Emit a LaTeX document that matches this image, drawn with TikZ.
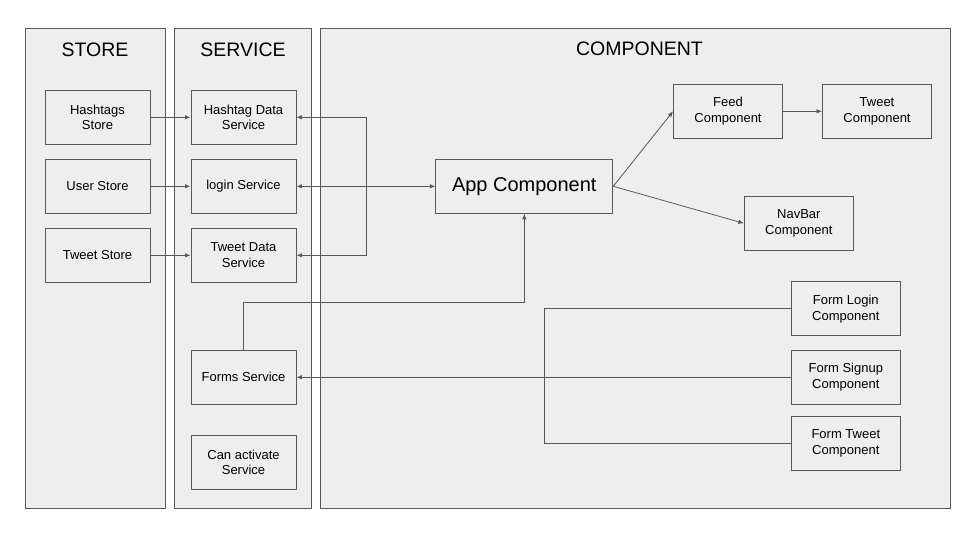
\documentclass[tikz,border=0pt]{standalone}
\usepackage{fontspec}
\setmainfont{Liberation Sans}
\usetikzlibrary{arrows.meta}
\definecolor{panelgray}{HTML}{EEEEEE}
\definecolor{linegray}{HTML}{595959}
\tikzset{
    panel/.style = {draw = linegray , fill = panelgray , line width = 0.9pt},
    paneltitle/.style = {font = \fontsize{19.5}{22}\selectfont},
    box/.style = {draw = linegray , fill = panelgray , line width = 0.9pt , minimum width = 105pt , minimum height = 54pt , inner sep = 0pt , align = center , font = \fontsize{13}{15.7}\selectfont},
    wide/.style = {minimum width = 109pt},
    link/.style = {draw = linegray , line width = 0.8pt},
    arr/.style = {link , -{Latex[length = 5.5pt , width = 4.5pt]}},
    darr/.style = {link , {Latex[length = 5.5pt , width = 4.5pt]}-{Latex[length = 5.5pt , width = 4.5pt]}}
}
\begin{document}
\begin{tikzpicture}[x = 1pt , y = -1pt]
    \useasboundingbox (0,0) rectangle (960,540);
    \draw[panel] (25,28.3) rectangle (165.7,508.3); % Στήλες
    \draw[panel] (174.3,28.3) rectangle (311.7,508.3);
    \draw[panel] (320.7,28.3) rectangle (950.7,508.5);
    \node[paneltitle] (storetitle) at (95,49.5) {STORE};
    \node[paneltitle] (servicetitle) at (243,49.5) {SERVICE};
    \node[paneltitle] (componenttitle) at (639.5,49.2) {COMPONENT};

    \node[box] (hstore) at (97.5,117.3) {Hashtags\\Store}; % Store
    \node[box] (ustore) at (97.5,186.3) {User Store};
    \node[box] (tstore) at (97.5,255.3) {Tweet Store};

    \node[box] (hservice) at (243.5,117.3) {Hashtag Data\\Service}; % Service
    \node[box] (lservice) at (243.5,186.3) {login Service};
    \node[box] (tservice) at (243.5,255.3) {Tweet Data\\Service};
    \node[box] (fservice) at (243.5,377.3) {Forms Service};
    \node[box] (cservice) at (243.5,462.3) {Can activate\\Service};

    \node[box , minimum width = 177pt , font = \fontsize{20}{24}\selectfont] (app) at (524.3,186.3) {App Component}; % Component
    \node[box , wide] (feed) at (728,111.3) {Feed\\Component};
    \node[box , wide] (tweetc) at (877,111.3) {Tweet\\Component};
    \node[box , wide] (navbar) at (798.8,223.3) {NavBar\\Component};
    \node[box , wide] (flogin) at (845.8,308.8) {Form Login\\Component};
    \node[box , wide] (fsignup) at (845.8,377.3) {Form Signup\\Component};
    \node[box , wide] (ftweet) at (845.8,443.3) {Form Tweet\\Component};

    \coordinate (sjoin) at (366.7,186.3); % Κόμβοι
    \coordinate (fturn) at (243.5,302.7);
    \coordinate (fjoin) at (544.3,377.3);

    \draw[arr] (hstore) -- (hservice);
    \draw[arr] (ustore) -- (lservice);
    \draw[arr] (tstore) -- (tservice);
    \draw[darr] (hservice.east) -| (sjoin) |- (tservice.east);
    \draw[darr] (lservice) -- (app);
    \draw[arr] (fservice.north) -- (fturn) -| (app.south);
    \draw[arr] (app.east) -- (feed.west);
    \draw[arr] (app.east) -- (navbar.west);
    \draw[arr] (feed) -- (tweetc);
    \draw[link] (flogin.west) -| (fjoin) |- (ftweet.west);
    \draw[arr] (fsignup) -- (fservice);
\end{tikzpicture}
\end{document}
